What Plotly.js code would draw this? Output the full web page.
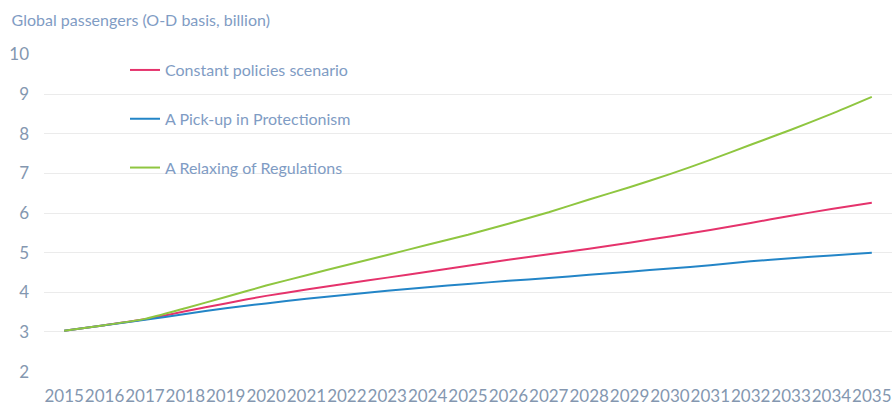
<!DOCTYPE html>
<html>
<head>
<meta charset="utf-8">
<script src="https://cdn.plot.ly/plotly-3.0.1.min.js"></script>
<style>html,body{margin:0;padding:0;background:#fff;}#chart{width:893px;height:406px;}</style>
</head>
<body>
<div id="chart"></div>
<script>
const years = ['2015','2016','2017','2018','2019','2020','2021','2022','2023','2024','2025','2026','2027','2028','2029','2030','2031','2032','2033','2034','2035'];
const constantPolicies = [3.03,3.17,3.32,3.52,3.72,3.91,4.07,4.22,4.37,4.52,4.67,4.82,4.96,5.10,5.25,5.41,5.57,5.75,5.93,6.10,6.26];
const protectionism = [3.03,3.17,3.31,3.45,3.60,3.72,3.84,3.94,4.04,4.13,4.21,4.29,4.36,4.44,4.52,4.60,4.68,4.78,4.86,4.93,5.00];
const relaxing = [3.03,3.17,3.33,3.60,3.88,4.17,4.43,4.69,4.94,5.20,5.45,5.73,6.02,6.34,6.65,6.98,7.34,7.72,8.10,8.50,8.93];
const seriesNames = ['Constant policies scenario','A Pick-up in Protectionism','A Relaxing of Regulations'];
const yTicks = [2,3,4,5,6,7,8,9,10];

const FONT = 'Lato, "Open Sans", sans-serif';
const colors = ['#E5336C','#2385C7','#8FC640'];
const data = [constantPolicies, protectionism, relaxing].map((vals,i)=>({
  type:'scatter', mode:'lines', x: years, y: vals, name: seriesNames[i],
  legendgroup: 'g'+i,
  line:{color:colors[i], width:2, shape:'spline', smoothing:0.6}
}));

const layout = {
  width:893, height:406,
  margin:{l:44, r:1, t:54, b:34},
  paper_bgcolor:'#ffffff', plot_bgcolor:'#ffffff',
  font:{family:FONT, color:'#8497B0'},
  title:{text:'Global passengers (O-D basis, billion)', x:0.013, xanchor:'left', xref:'container', y:0.95, yanchor:'middle', yref:'container',
    font:{family:FONT, size:16, color:'#7F9CC4'}},
  xaxis:{type:'category', range:[-0.5,20.5], tickangle:0, showgrid:false, zeroline:false, showline:false,
    ticks:'', tickfont:{family:FONT, size:17, color:'#8497B0'}, ticklabelstandoff:12},
  yaxis:{range:[1.99,10.01], tickvals:yTicks, ticktext:yTicks.map(String), showgrid:true, gridcolor:'#EBEBEB', gridwidth:1,
    zeroline:false, showline:false, ticks:'', tickfont:{family:FONT, size:17, color:'#8497B0'}, ticklabelstandoff:14},
  showlegend:true,
  legend:{x:81/848, xanchor:'left', xref:'paper', y:1.003, yanchor:'top', traceorder:'grouped', tracegroupgap:25,
    itemwidth:30, bgcolor:'rgba(0,0,0,0)', font:{family:FONT, size:16, color:'#7F9CC4'}},
};
Plotly.newPlot('chart', data, layout, {displayModeBar:false, staticPlot:true});
</script>
</body>
</html>
